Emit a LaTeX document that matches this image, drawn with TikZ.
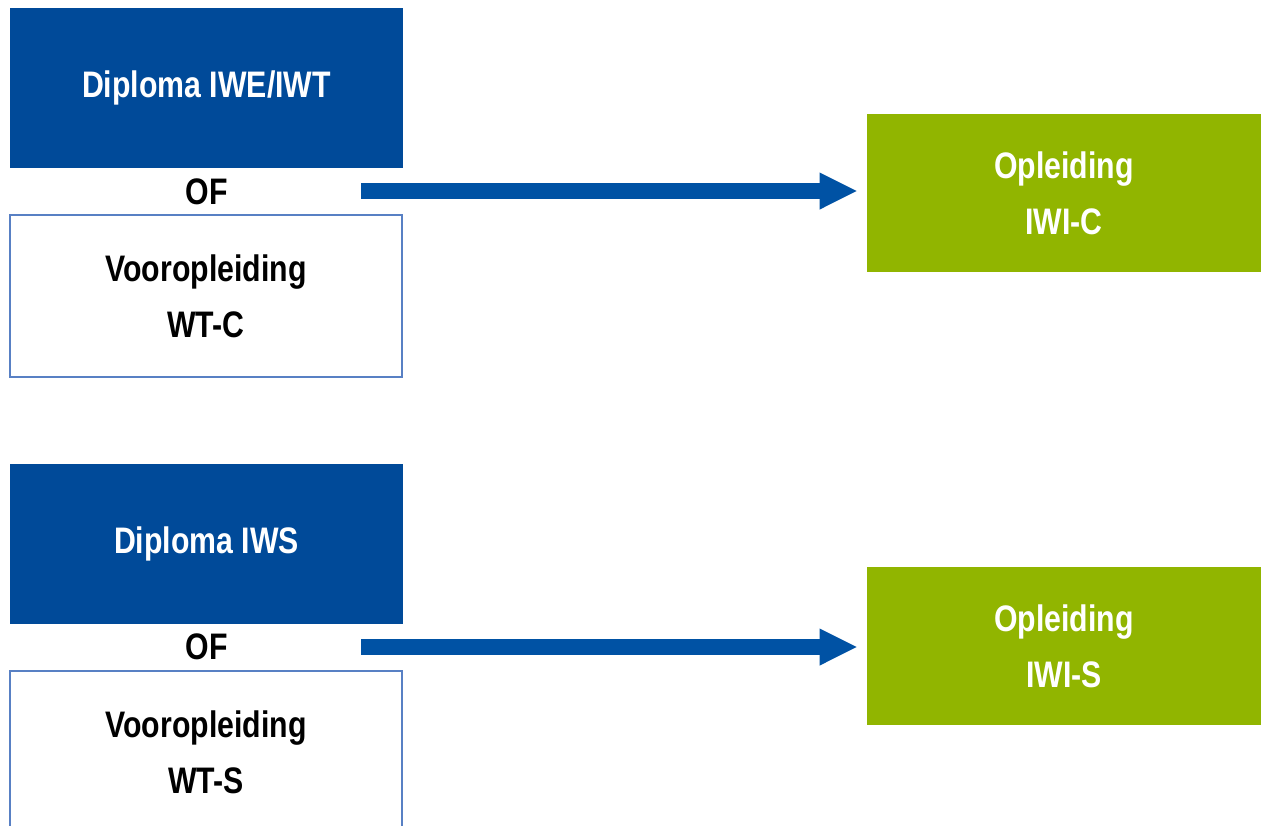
\documentclass[tikz,border=0pt]{standalone}
\usepackage{fontspec}
\setmainfont{Liberation Sans}[FakeStretch=0.82]
\usetikzlibrary{arrows.meta, positioning, calc}

\definecolor{diplomablue}{RGB}{0,74,153}
\definecolor{arrowblue}{RGB}{0,82,164}
\definecolor{framblue}{RGB}{88,128,196}
\definecolor{opleidinggreen}{RGB}{145,181,0}

\begin{document}
\begin{tikzpicture}
    % --- Style Definitions ---
    \tikzset{
        % Filled blue diploma box
        diploma style/.style={
            fill=diplomablue,
            draw=none,
            minimum width=7.86cm,
            minimum height=3.2cm,
            text=white,
            font=\fontsize{21}{32}\selectfont\bfseries
        },
        % Open box with thin blue frame
        voor style/.style={
            fill=white,
            draw=framblue,
            line width=1.2pt,
            minimum width=7.84cm,
            minimum height=3.24cm,
            align=center,
            font=\fontsize{21}{32}\selectfont\bfseries
        },
        % Green target box
        opleiding style/.style={
            fill=opleidinggreen,
            draw=none,
            minimum width=7.88cm,
            minimum height=3.16cm,
            align=center,
            text=white,
            font=\fontsize{21}{32}\selectfont\bfseries
        },
        % Text between the boxes
        of text/.style={
            font=\fontsize{21}{32}\selectfont\bfseries
        },
        % Arrow styling
        flow arrow/.style={
            -{Triangle[length=0.76cm, width=0.68cm]},
            line width=0.32cm,
            arrowblue,
            shorten >=0.18cm
        }
    }

    \useasboundingbox (0,0) rectangle (25.3,-16.5);

    % --- 1. Upper Row (C) ---
    \node[diploma style] (dipC) at (4.13, -1.76) {Diploma IWE/IWT};
    \node[of text] (ofC) at (4.13, -3.84) {OF};
    \node[voor style] (voorC) at (4.12, -5.92) {Vooropleiding\\WT-C};
    \node[opleiding style] (iwiC) at (21.28, -3.86) {Opleiding\\IWI-C};

    % Arrow from the left group to the course
    \coordinate (startC) at (7.22, -3.82);
    \draw[flow arrow] (startC) -- (startC -| iwiC.west);

    % --- 2. Lower Row (S) ---
    \node[diploma style] (dipS) at (4.13, -10.88) {Diploma IWS};
    \node[of text] (ofS) at (4.13, -12.94) {OF};
    \node[voor style] (voorS) at (4.12, -15.04) {Vooropleiding\\WT-S};
    \node[opleiding style] (iwiS) at (21.28, -12.92) {Opleiding\\IWI-S};

    % Arrow from the left group to the course
    \coordinate (startS) at (7.22, -12.94);
    \draw[flow arrow] (startS) -- (startS -| iwiS.west);

\end{tikzpicture}
\end{document}
